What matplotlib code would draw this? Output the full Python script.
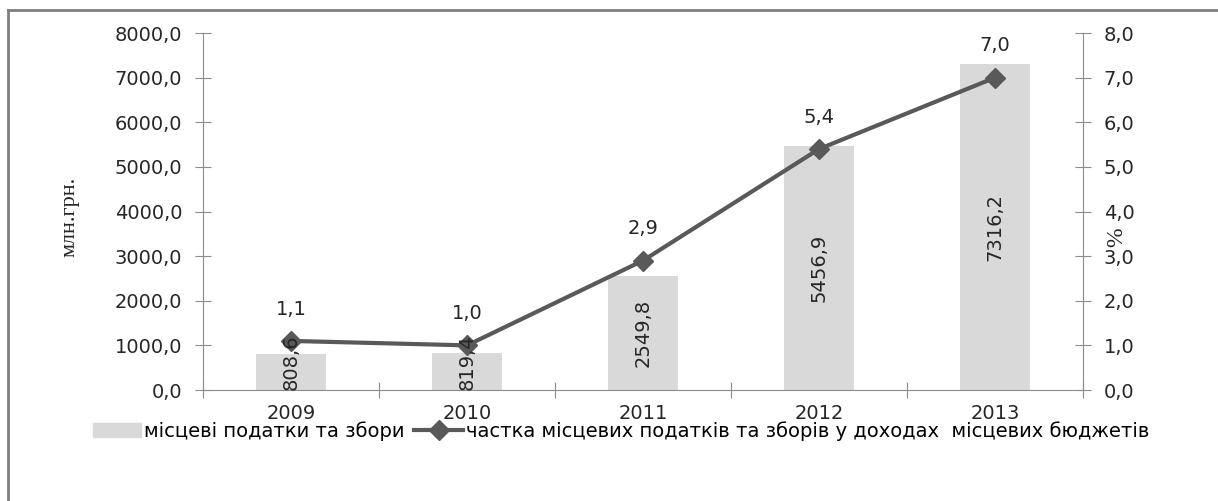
import matplotlib
matplotlib.use("Agg")
import matplotlib.pyplot as plt
from matplotlib.lines import Line2D
from matplotlib.patches import Patch

years = ["2009", "2010", "2011", "2012", "2013"]
taxes = [808.6, 819.4, 2549.8, 5456.9, 7316.2]      # млн.грн.
share = [1.1, 1.0, 2.9, 5.4, 7.0]                  # %

BAR = "#d9d9d9"
LINE = "#595959"
AX = "#8c8c8c"
TXT = "#262626"
FONT = "DejaVu Sans"
FS = 14


def fmt(v, nd=1):
    return f"{v:.{nd}f}".replace(".", ",")


fig = plt.figure(figsize=(12.18, 5.01), dpi=100)
ax = fig.add_axes([203 / 1218, 1 - 390 / 501, 880 / 1218, 357 / 501])
ax2 = ax.twinx()

x = list(range(len(years)))
ax.bar(x, taxes, width=0.4, color=BAR, zorder=1)

ax2.plot(x, share, color=LINE, lw=3, marker="D", ms=10, zorder=2)
for xi, v in zip(x, share):
    ax2.annotate(fmt(v), (xi, v), xytext=(0, 16), textcoords="offset points",
                 ha="center", va="bottom", fontsize=FS, color=TXT, family=FONT)

# bar values drawn on ax2 (in ax data coords) so they sit over the line
for xi, v in zip(x, taxes):
    # short bars: label pushed up so it sits on the axis (as Excel does)
    if v > 2000:
        ax2.text(xi, v / 2, fmt(v), rotation=90, ha="center", va="center",
                 fontsize=FS, color=TXT, family=FONT, zorder=5,
                 transform=ax.transData)
    else:
        ax2.text(xi, 0, fmt(v), rotation=90, ha="center", va="bottom",
                 fontsize=FS, color=TXT, family=FONT, zorder=5,
                 transform=ax.transData)

ax.set_xlim(-0.5, 4.5)
ax.set_ylim(0, 8000)
ax2.set_ylim(0, 8)
ax.set_yticks(range(0, 8001, 1000))
ax.set_yticklabels([fmt(v) for v in range(0, 8001, 1000)])
ax2.set_yticks(range(0, 9))
ax2.set_yticklabels([fmt(v) for v in range(0, 9)])

# category boundaries carry the ticks, labels sit in the middle
ax.set_xticks([i - 0.5 for i in range(len(years) + 1)])
ax.set_xticklabels([])
ax.set_xticks(x, minor=True)
ax.set_xticklabels(years, minor=True)
ax.tick_params(axis="x", which="minor", length=0, pad=10)
ax.tick_params(axis="x", which="major", direction="inout", length=12, color=AX)

for a in (ax, ax2):
    a.tick_params(axis="y", direction="inout", length=12, color=AX, pad=9)
    for s in a.spines.values():
        s.set_visible(False)
    for lab in a.get_xticklabels(which="both") + a.get_yticklabels():
        lab.set_fontsize(FS)
        lab.set_color(TXT)
        lab.set_family(FONT)
ax.spines["left"].set_visible(True)
ax.spines["left"].set_color(AX)
ax.spines["bottom"].set_visible(True)
ax.spines["bottom"].set_color(AX)
ax2.spines["right"].set_visible(True)
ax2.spines["right"].set_color(AX)

fig.text(70 / 1218, 1 - 217 / 501, "млн.грн.", rotation=90, ha="center",
         va="center", family="Liberation Serif", fontsize=16, color=TXT)
fig.text(1117 / 1218, 1 - 237 / 501, "%", rotation=90, ha="center", va="center",
         family="Liberation Serif", fontsize=17, color=TXT)

handles = [Patch(color=BAR),
           Line2D([], [], color=LINE, lw=3, marker="D", ms=10)]
labels = ["місцеві податки та збори",
          "частка місцевих податків та зборів у доходах  місцевих бюджетів"]
fig.legend(handles, labels, loc="center", bbox_to_anchor=(621 / 1218, 1 - 431 / 501),
           ncol=2, frameon=False, handlelength=2.5, handletextpad=0.15,
           columnspacing=0.5, prop={"family": FONT, "size": FS})

# chart-area border (only top and left edges are visible in the source)
fig.add_artist(Line2D([8 / 1218, 8 / 1218], [0, 1 - 10 / 501],
                      transform=fig.transFigure, color="#7f7f7f", lw=2))
fig.add_artist(Line2D([8 / 1218, 1], [1 - 10 / 501, 1 - 10 / 501],
                      transform=fig.transFigure, color="#7f7f7f", lw=2))

fig.savefig("out.png", dpi=100)
